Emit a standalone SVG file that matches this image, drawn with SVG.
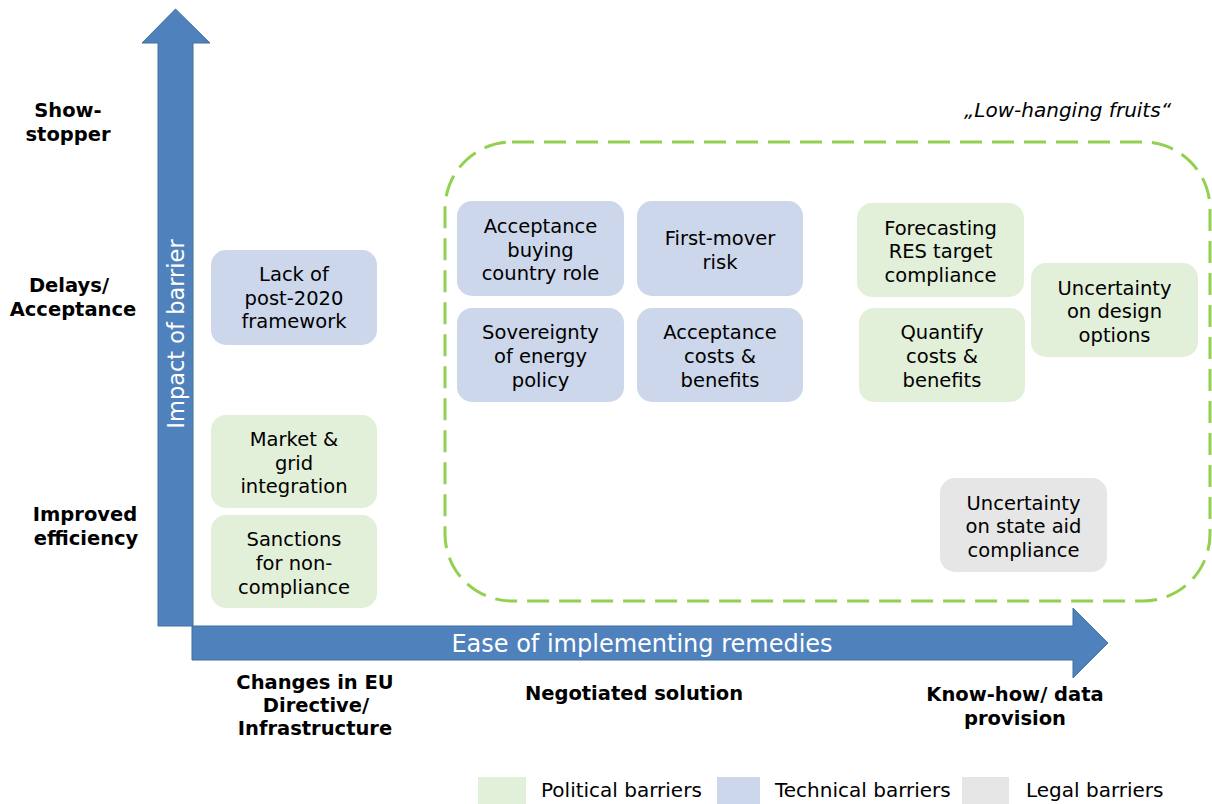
<svg xmlns="http://www.w3.org/2000/svg" width="1212" height="804" viewBox="0 0 1212 804">
<style>
text{font-family:"DejaVu Sans","Noto Sans",sans-serif;fill:#000}
.n{font-size:19.5px;text-anchor:middle}
.b{font-size:19.5px;font-weight:bold;text-anchor:middle}
.lg{font-size:20px}
.ax{font-size:22.5px;fill:#fff;text-anchor:middle}
.pol{fill:#E2EFD9}
.tech{fill:#CDD7EB}
.leg{fill:#E6E6E6}
.arr{fill:#4F81BD;stroke:#41719C;stroke-width:1}
</style>
<rect width="1212" height="804" fill="#fff"/>
<g id="region-low-hanging">
<rect x="445" y="142" width="765" height="459" rx="67" ry="67" fill="none" stroke="#92D050" stroke-width="3" stroke-dasharray="22 10"/>
<text x="1171" y="117" font-size="20" font-style="italic" text-anchor="end">„Low-hanging fruits“</text>
</g>
<g id="axes">
<path class="arr" d="M158,626 L158,43 L142,43 L175.5,9 L210,43 L193,43 L193,626 Z"/>
<path class="arr" d="M192,626 L1073,626 L1073,608 L1108,643 L1073,678 L1073,660 L192,660 Z"/>
<text class="ax" transform="translate(184,334) rotate(-90)">Impact of barrier</text>
<text style="font-size:24px;fill:#fff;text-anchor:middle" x="642" y="652">Ease of implementing remedies</text>
</g>
<g id="y-labels">
<text class="b" x="68" y="117">Show-</text>
<text class="b" x="68" y="141">stopper</text>
<text class="b" x="69" y="292">Delays/</text>
<text class="b" x="73" y="316">Acceptance</text>
<text class="b" x="85" y="521">Improved</text>
<text class="b" x="86" y="545">efficiency</text>
</g>
<g id="x-labels">
<text class="b" x="315" y="689">Changes in EU</text>
<text class="b" x="316" y="712">Directive/</text>
<text class="b" x="315" y="735">Infrastructure</text>
<text class="b" x="634" y="700">Negotiated solution</text>
<text class="b" x="1015" y="701">Know-how/ data</text>
<text class="b" x="1015" y="725">provision</text>
</g>
<g id="n-lack">
<rect class="tech" x="211" y="250" width="166" height="95" rx="15"/>
<text class="n" x="294" y="281">Lack of</text>
<text class="n" x="294" y="305">post-2020</text>
<text class="n" x="294" y="328">framework</text>
</g>
<g id="n-market">
<rect class="pol" x="211" y="415" width="166" height="93" rx="15"/>
<text class="n" x="294" y="446">Market &amp;</text>
<text class="n" x="294" y="470">grid</text>
<text class="n" x="294" y="493">integration</text>
</g>
<g id="n-sanctions">
<rect class="pol" x="211" y="515" width="166" height="93" rx="15"/>
<text class="n" x="294" y="546">Sanctions</text>
<text class="n" x="294" y="570">for non-</text>
<text class="n" x="294" y="594">compliance</text>
</g>
<g id="n-accbuy">
<rect class="tech" x="457" y="201" width="167" height="95" rx="15"/>
<text class="n" x="540.5" y="233">Acceptance</text>
<text class="n" x="540.5" y="257">buying</text>
<text class="n" x="540.5" y="280">country role</text>
</g>
<g id="n-firstmover">
<rect class="tech" x="637" y="201" width="166" height="95" rx="15"/>
<text class="n" x="720" y="245">First-mover</text>
<text class="n" x="720" y="269">risk</text>
</g>
<g id="n-sovereignty">
<rect class="tech" x="457" y="308" width="167" height="94" rx="15"/>
<text class="n" x="540.5" y="339">Sovereignty</text>
<text class="n" x="540.5" y="363">of energy</text>
<text class="n" x="540.5" y="387">policy</text>
</g>
<g id="n-acccosts">
<rect class="tech" x="637" y="308" width="166" height="94" rx="15"/>
<text class="n" x="720" y="339">Acceptance</text>
<text class="n" x="720" y="363">costs &amp;</text>
<text class="n" x="720" y="387">benefits</text>
</g>
<g id="n-forecasting">
<rect class="pol" x="857" y="203" width="167" height="94" rx="15"/>
<text class="n" x="940.5" y="235">Forecasting</text>
<text class="n" x="940.5" y="258">RES target</text>
<text class="n" x="940.5" y="282">compliance</text>
</g>
<g id="n-quantify">
<rect class="pol" x="859" y="308" width="166" height="94" rx="15"/>
<text class="n" x="942" y="339">Quantify</text>
<text class="n" x="942" y="363">costs &amp;</text>
<text class="n" x="942" y="387">benefits</text>
</g>
<g id="n-design">
<rect class="pol" x="1031" y="263" width="167" height="94" rx="15"/>
<text class="n" x="1114.5" y="295">Uncertainty</text>
<text class="n" x="1114.5" y="318">on design</text>
<text class="n" x="1114.5" y="342">options</text>
</g>
<g id="n-stateaid">
<rect class="leg" x="940" y="478" width="167" height="94" rx="15"/>
<text class="n" x="1023.5" y="510">Uncertainty</text>
<text class="n" x="1023.5" y="533">on state aid</text>
<text class="n" x="1023.5" y="557">compliance</text>
</g>
<g id="connectors"></g>
<g id="legend">
<rect class="pol" x="478" y="777" width="48" height="27"/>
<text class="lg" x="541" y="797">Political barriers</text>
<rect class="tech" x="717" y="777" width="43" height="27"/>
<text class="lg" x="775" y="797">Technical barriers</text>
<rect class="leg" x="962" y="777" width="47" height="27"/>
<text class="lg" x="1026" y="797">Legal barriers</text>
</g>
</svg>
